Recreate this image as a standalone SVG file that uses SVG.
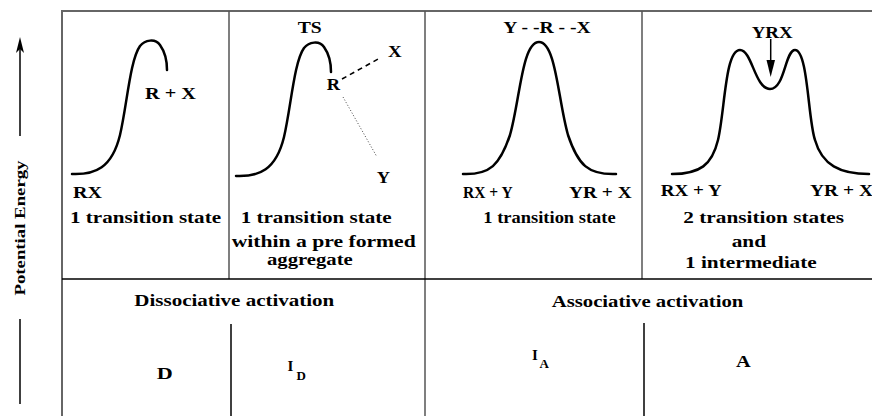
<svg xmlns="http://www.w3.org/2000/svg" width="872" height="416" viewBox="0 0 872 416">
<style>
.t{font-family:"Liberation Serif","Tinos","DejaVu Serif",serif;font-weight:bold;font-size:16px;fill:#000}
.i{font-size:15px}
.s{font-size:13px}
.pe{font-size:15px}
.curve{fill:none;stroke:#000;stroke-width:2.5;stroke-linecap:round}
.frame{stroke:#666;stroke-width:2;fill:none}
.div{stroke:#555;stroke-width:1.5}
.rule{stroke:#000;stroke-width:1.5}
</style>
<rect width="872" height="416" fill="#fff"/>
<g id="frame">
<line class="frame" x1="62" y1="10" x2="62" y2="416"/>
<line class="frame" x1="61" y1="11" x2="872" y2="11"/>
<line class="div" x1="229" y1="11" x2="229" y2="279"/>
<line class="div" x1="425" y1="11" x2="425" y2="416"/>
<line class="div" x1="642" y1="11" x2="642" y2="279"/>
<line class="rule" x1="62" y1="279" x2="872" y2="279"/>
<line class="rule" x1="231" y1="324" x2="231" y2="416"/>
<line class="rule" x1="644" y1="323" x2="644" y2="416"/>
</g>
<g id="axis">
<line class="rule" x1="20" y1="48" x2="20" y2="136"/>
<polygon points="20,37 16,53 20,49 24,53" fill="#000"/>
<line class="rule" x1="20" y1="319" x2="20" y2="404"/>
<text class="t pe" transform="translate(25,228) rotate(-90)" text-anchor="middle" textLength="135" lengthAdjust="spacingAndGlyphs">Potential Energy</text>
</g>
<g id="panel-d">
<path class="curve" d="M72,174 C95,175 112,168 120,135 C127,105 130,60 140,46 C145,40 155,38 160,45 C165,52 167,62 167,70"/>
<text class="t" x="145" y="99" textLength="51" lengthAdjust="spacingAndGlyphs">R + X</text>
<text class="t" x="73" y="198" textLength="29" lengthAdjust="spacingAndGlyphs">RX</text>
<text class="t" x="70" y="222.7" textLength="151" lengthAdjust="spacingAndGlyphs">1 transition state</text>
</g>
<g id="panel-id">
<path class="curve" transform="translate(164,2)" d="M72,174 C95,175 112,168 120,135 C127,105 130,60 140,46 C145,40 155,38 160,45 C165,52 167,62 167,70"/>
<text class="t" x="297.7" y="33" textLength="24" lengthAdjust="spacingAndGlyphs">TS</text>
<text class="t" x="326.7" y="90" textLength="13.3" lengthAdjust="spacingAndGlyphs">R</text>
<text class="t" x="388" y="57" textLength="13.7" lengthAdjust="spacingAndGlyphs">X</text>
<text class="t" x="376.7" y="182.7" textLength="13.3" lengthAdjust="spacingAndGlyphs">Y</text>
<text class="t" x="240.7" y="222.7" textLength="151" lengthAdjust="spacingAndGlyphs">1 transition state</text>
<text class="t" x="231.7" y="246.7" textLength="184" lengthAdjust="spacingAndGlyphs">within a pre formed</text>
<text class="t" x="267" y="265" textLength="85.7" lengthAdjust="spacingAndGlyphs">aggregate</text>
</g>
<g id="connectors">
<line x1="342" y1="79" x2="380" y2="58" stroke="#000" stroke-width="1.6" stroke-dasharray="5,4"/>
<line x1="343" y1="97" x2="377" y2="157" stroke="#444" stroke-width="1" stroke-dasharray="1,2"/>
<line x1="770.7" y1="39" x2="770.7" y2="64" stroke="#000" stroke-width="1.5"/>
<polygon points="766.5,60 775,60 770.7,77" fill="#000"/>
</g>
<g id="panel-ia">
<path class="curve" d="M463,174 C490,175 500,165 510,135 C520,100 522,42 539,42 C556,42 558,100 568,135 C578,165 588,175 616,174"/>
<text class="t" x="503.3" y="33.3" textLength="87.4" lengthAdjust="spacingAndGlyphs">Y - -R - -X</text>
<text class="t" x="463" y="197.7" textLength="49.7" lengthAdjust="spacingAndGlyphs">RX + Y</text>
<text class="t" x="569" y="197.7" textLength="62.7" lengthAdjust="spacingAndGlyphs">YR + X</text>
<text class="t" x="483.3" y="222.7" textLength="132.4" lengthAdjust="spacingAndGlyphs">1 transition state</text>
</g>
<g id="panel-a">
<path class="curve" d="M672,174 C700,174 712,165 718,140 C725,110 725,50 740,50 C752,50 755,89 770,89 C785,89 785,50 795,50 C808,50 808,120 815,140 C822,165 840,174 869,174"/>
<text class="t" x="751.7" y="37.7" textLength="41" lengthAdjust="spacingAndGlyphs">YRX</text>
<text class="t" x="660.7" y="195.7" textLength="61" lengthAdjust="spacingAndGlyphs">RX + Y</text>
<text class="t" x="810" y="195.7" textLength="63" lengthAdjust="spacingAndGlyphs">YR + X</text>
<text class="t" x="683.3" y="222.7" textLength="160.7" lengthAdjust="spacingAndGlyphs">2 transition states</text>
<text class="t" x="731.7" y="246.7" textLength="34.3" lengthAdjust="spacingAndGlyphs">and</text>
<text class="t" x="685" y="268.3" textLength="131.7" lengthAdjust="spacingAndGlyphs">1 intermediate</text>
</g>
<g id="row-dissociative">
<text class="t" x="134.3" y="306" textLength="200" lengthAdjust="spacingAndGlyphs">Dissociative activation</text>
<text class="t" x="156.7" y="379" textLength="16" lengthAdjust="spacingAndGlyphs">D</text>
<text class="t i" x="287.5" y="370.7">I<tspan class="s" x="296.5" y="380">D</tspan></text>
</g>
<g id="row-associative">
<text class="t" x="551.7" y="306.7" textLength="191.6" lengthAdjust="spacingAndGlyphs">Associative activation</text>
<text class="t i" x="532" y="360">I<tspan class="s" x="539.5" y="368.3">A</tspan></text>
<text class="t" x="736" y="367.3" textLength="14.7" lengthAdjust="spacingAndGlyphs">A</text>
</g>
</svg>
